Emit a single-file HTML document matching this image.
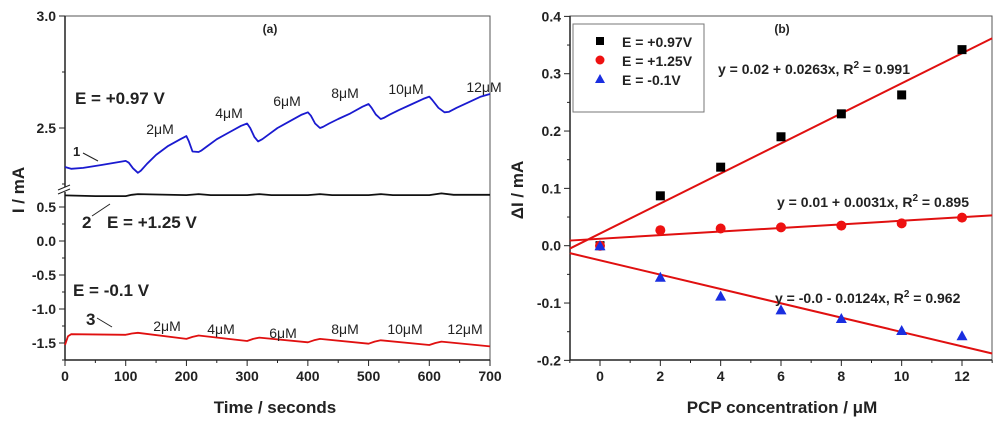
<!DOCTYPE html>
<html><head><meta charset="utf-8"><style>
body{margin:0;background:#fff;}
svg text{font-family:"Liberation Sans",Arial,sans-serif;font-weight:bold;fill:#222;}
svg text.reg{font-weight:normal;}
</style></head><body>
<svg id="c" width="1000" height="424" viewBox="0 0 1000 424"></svg>
<script>
// Panel (a) data
const tA = [0,5,10,30,60,100,105,112,120,125,135,150,170,190,200,204,210,220,225,235,250,270,290,300,305,312,318,325,335,350,370,390,400,405,412,420,425,435,450,470,490,500,505,512,520,525,535,550,570,590,600,605,615,625,632,645,665,685,700];
const blueA = [2.326,2.322,2.318,2.322,2.335,2.353,2.345,2.32,2.30,2.31,2.34,2.38,2.42,2.45,2.464,2.44,2.395,2.393,2.40,2.42,2.45,2.48,2.51,2.52,2.50,2.46,2.44,2.45,2.47,2.50,2.53,2.56,2.57,2.555,2.52,2.50,2.505,2.52,2.54,2.565,2.595,2.607,2.59,2.56,2.54,2.545,2.56,2.58,2.605,2.63,2.64,2.625,2.59,2.57,2.572,2.59,2.615,2.64,2.652];
const tB = [0,50,100,110,120,200,220,240,300,320,340,400,420,440,500,520,540,600,620,640,700];
const blackA = [0.67,0.66,0.66,0.68,0.69,0.675,0.69,0.675,0.675,0.69,0.675,0.675,0.69,0.675,0.675,0.69,0.675,0.675,0.70,0.68,0.68];
const tR = [0,5,10,100,110,120,200,210,220,300,310,320,400,410,420,500,510,520,600,610,620,700];
const redA = [-1.53,-1.40,-1.37,-1.38,-1.36,-1.35,-1.44,-1.41,-1.39,-1.47,-1.44,-1.42,-1.49,-1.46,-1.44,-1.51,-1.48,-1.46,-1.53,-1.50,-1.48,-1.55];
const xTicksA = [0,100,200,300,400,500,600,700];
const yTicksUpper = [2.5,3.0];
const yTicksLower = [-1.5,-1.0,-0.5,0.0,0.5];
const concLabels = ["2μM","4μM","6μM","8μM","10μM","12μM"];
// Panel (b) data
const conc = [0,2,4,6,8,10,12];
const dI097 = [0,0.087,0.137,0.19,0.23,0.263,0.342];
const dI125 = [0,0.027,0.03,0.032,0.035,0.039,0.049];
const dIm01 = [0,-0.055,-0.088,-0.112,-0.127,-0.148,-0.157];
const fitIntercepts = [0.0212,0.0121,-0.0255];
const fitSlopes = [0.0262,0.00314,-0.0125];
const xTicksB = [0,2,4,6,8,10,12];
const yTicksB = [-0.2,-0.1,0.0,0.1,0.2,0.3,0.4];

const svg=document.getElementById('c');
const NS='http://www.w3.org/2000/svg';
function mk(tag,attrs,parent){const e=document.createElementNS(NS,tag);for(const k in attrs)e.setAttribute(k,attrs[k]);(parent||svg).appendChild(e);return e;}
function txt(s,x,y,size,anchor,parent){const e=mk('text',{x:x,y:y,'font-size':size,'text-anchor':anchor||'middle'},parent);e.textContent=s;return e;}

// ---- Panel A ----
const ga=mk('g',{});


const xA=t=>65+t*425/700;
const yA=v=> v>=2.2 ? 128-(v-2.5)*224 : 241-v*68;
mk('rect',{x:65,y:16,width:425,height:344,fill:'none',stroke:'#555','stroke-width':1},ga);
mk('line',{x1:65,y1:16,x2:65,y2:360,stroke:'#222','stroke-width':1.5},ga);
mk('line',{x1:65,y1:360,x2:490,y2:360,stroke:'#222','stroke-width':1.5},ga);
for(let t=0;t<=700;t+=50){mk('line',{x1:xA(t),y1:360,x2:xA(t),y2:t%100===0?366:363,stroke:'#222','stroke-width':1},ga);}
xTicksA.forEach(t=>{const e=txt(String(t),xA(t),381,14,'middle',ga);});
yTicksUpper.forEach(v=>{mk('line',{x1:59,y1:yA(v),x2:65,y2:yA(v),stroke:'#222'},ga);const e=txt(v.toFixed(1),56,yA(v)+5,14,'end',ga);});
for(let v=2.25;v<3;v+=0.25){mk('line',{x1:62,y1:yA(v),x2:65,y2:yA(v),stroke:'#222'},ga);}
yTicksLower.forEach(v=>{mk('line',{x1:59,y1:yA(v),x2:65,y2:yA(v),stroke:'#222'},ga);const e=txt(v.toFixed(1),56,yA(v)+5,14,'end',ga);});
for(let v=-1.75;v<0.75;v+=0.25){mk('line',{x1:62,y1:yA(v),x2:65,y2:yA(v),stroke:'#222'},ga);}
mk('rect',{x:58,y:187,width:12,height:5,fill:'#fff'},ga);
mk('line',{x1:58,y1:190,x2:70,y2:185,stroke:'#222'},ga);
mk('line',{x1:58,y1:194,x2:70,y2:189,stroke:'#222'},ga);
function line(ts,vs,color,name){const p=ts.map((t,i)=>(i?'L':'M')+xA(t).toFixed(1)+','+yA(vs[i]).toFixed(1)).join('');const e=mk('path',{d:p,fill:'none',stroke:color,'stroke-width':1.8,'stroke-linejoin':'round'},ga);}
line(tA,blueA,'#1a1ad0','series-e097-curve');
line(tB,blackA,'#111','series-e125-curve');
line(tR,redA,'#e01010','series-em01-curve');
txt('(a)',270,33,12,'middle',ga);
txt('E = +0.97 V',75,104,17,'start',ga);
txt('E = +1.25 V',107,228,17,'start',ga);
txt('E = -0.1 V',73,296,17,'start',ga);
txt('1',73,156,13,'start',ga);
mk('line',{x1:83,y1:153,x2:98,y2:161,stroke:'#222'},ga);
txt('2',82,228,17,'start',ga);
mk('line',{x1:92,y1:216,x2:110,y2:204,stroke:'#222'},ga);
txt('3',86,325,17,'start',ga);
mk('line',{x1:97,y1:318,x2:112,y2:327,stroke:'#222'},ga);
const upX=[160,229,287,345,406,484],upY=[134,118,106,98,94,92];
const loX=[167,221,283,345,405,465],loY=[331,334,338,334,334,334];
concLabels.forEach((s,i)=>{txt(s,upX[i],upY[i],14,'middle',ga).setAttribute('class','reg');txt(s,loX[i],loY[i],14,'middle',ga).setAttribute('class','reg');});
const xa=txt('Time / seconds',275,413,17,'middle',ga);

const ya=txt('I / mA',24,190,17,'middle',ga);ya.setAttribute('transform','rotate(-90 24 190)');


// ---- Panel B ----
const gb=mk('g',{});


const xB=x=>600+x*(362/12);
const yB=v=>245.7-v*573.3;
mk('rect',{x:570,y:16,width:422,height:344,fill:'none',stroke:'#555','stroke-width':1},gb);
mk('line',{x1:570,y1:16,x2:570,y2:360,stroke:'#222','stroke-width':1.5},gb);
mk('line',{x1:570,y1:360,x2:992,y2:360,stroke:'#222','stroke-width':1.5},gb);
for(let x=-1;x<=13;x++){mk('line',{x1:xB(x),y1:360,x2:xB(x),y2:x%2===0?366:363,stroke:'#222'},gb);}
xTicksB.forEach(x=>{const e=txt(String(x),xB(x),381,14,'middle',gb);});
for(let v=-0.2;v<=0.401;v+=0.05){const maj=Math.abs(Math.round(v*10)-v*10)<0.01;mk('line',{x1:maj?564:567,y1:yB(v),x2:570,y2:yB(v),stroke:'#222'},gb);}
yTicksB.forEach(v=>{const e=txt(v.toFixed(1),561,yB(v)+5,14,'end',gb);});
const fitNames=['fit-line-e097','fit-line-e125','fit-line-em01'];
fitIntercepts.forEach((b,i)=>{const e=mk('line',{x1:xB(-1),y1:yB(b-fitSlopes[i]),x2:xB(13),y2:yB(b+13*fitSlopes[i]),stroke:'#e01010','stroke-width':2},gb);});
conc.forEach((c,i)=>{
  const s=mk('rect',{x:xB(c)-4.5,y:yB(dI097[i])-4.5,width:9,height:9,fill:'#000'},gb);
  
  const r=mk('circle',{cx:xB(c),cy:yB(dI125[i]),r:5,fill:'#ee1111'},gb);
  
  const x=xB(c),y=yB(dIm01[i]);
  const t=mk('polygon',{points:`${x},${y-5.5} ${x-5.5},${y+4.5} ${x+5.5},${y+4.5}`,fill:'#1a2ee0'},gb);
  
});
const lg=mk('g',{},gb);

mk('rect',{x:573,y:24,width:131,height:88,fill:'#fff',stroke:'#777'},lg);
mk('rect',{x:596,y:37,width:8,height:8,fill:'#000'},lg);txt('E = +0.97V',622,47,14,'start',lg);
mk('circle',{cx:600,cy:60,r:4.5,fill:'#ee1111'},lg);txt('E = +1.25V',622,66,14,'start',lg);
mk('polygon',{points:'600,74 595,83 605,83',fill:'#1a2ee0'},lg);txt('E = -0.1V',622,85,14,'start',lg);
txt('(b)',782,33,12,'middle',gb);
function eq(x,y,a,b){const e=txt('',x,y,14,'start',gb);e.innerHTML=a+'<tspan dy="-6" font-size="10">2</tspan><tspan dy="6">'+b+'</tspan>';}
eq(718,74,'y = 0.02 + 0.0263x, R',' = 0.991');
eq(777,207,'y = 0.01 + 0.0031x, R',' = 0.895');
eq(775,303,'y = -0.0 - 0.0124x, R',' = 0.962');
const xb=txt('PCP concentration / μM',782,413,17,'middle',gb);

const yb=txt('ΔI / mA',523,190,17,'middle',gb);yb.setAttribute('transform','rotate(-90 523 190)');

</script>
</body></html>
